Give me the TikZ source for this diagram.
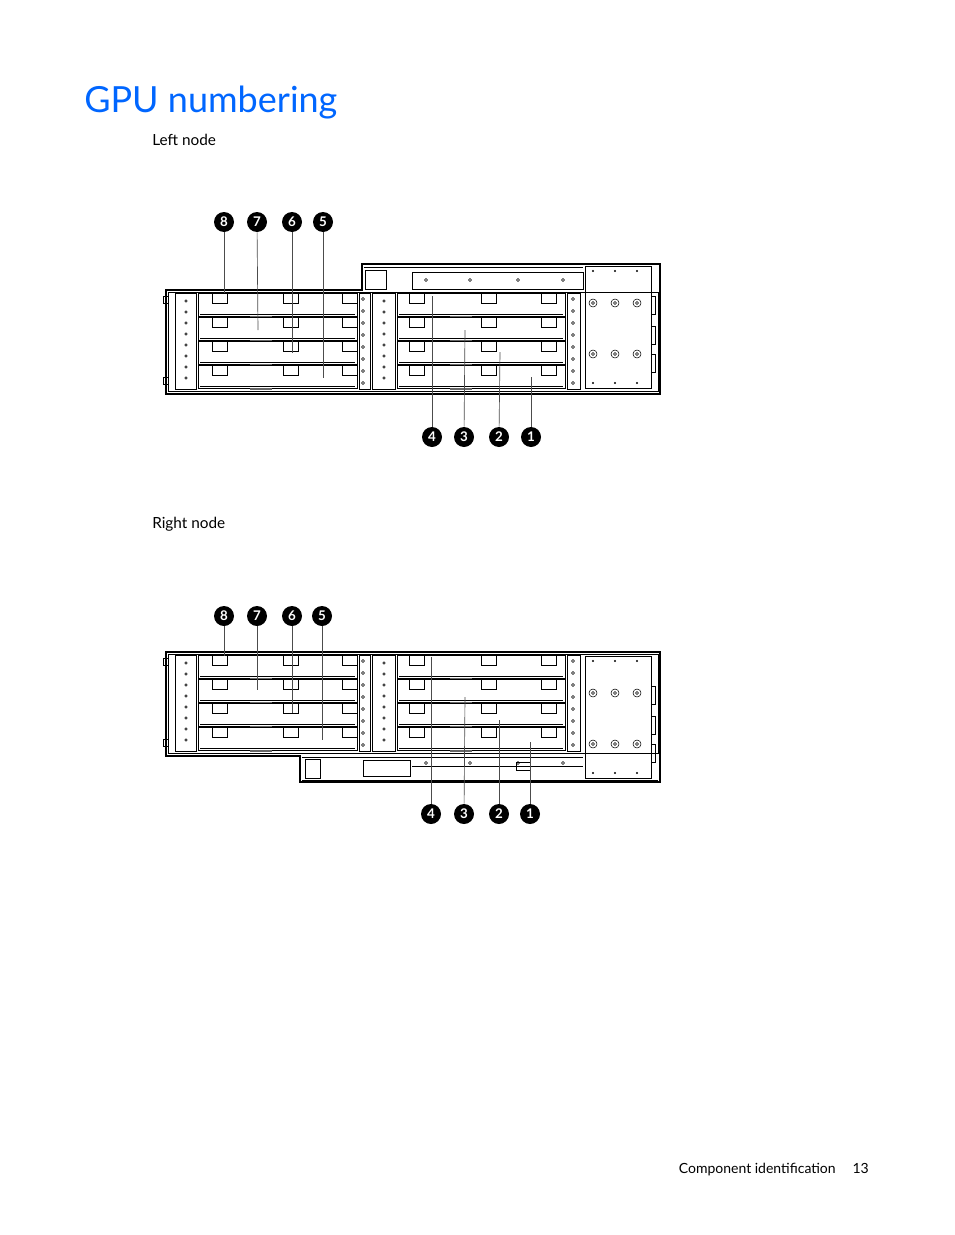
\documentclass[tikz,border=0pt]{standalone}
\usepackage{fontspec}
\setmainfont{Lato}
\begin{document}
\begin{tikzpicture}[x=0.75pt,y=-0.75pt,
  callout/.style={circle,fill=black,inner sep=0pt,minimum size=15pt,text=white,font=\bfseries\fontsize{10}{10}\selectfont},
  lead/.style={draw=black!70,line width=0.5pt},
  body/.style={draw=black,line width=0.9pt,fill=white},
  thin/.style={draw=black,line width=0.4pt}]
\useasboundingbox (0,0) rectangle (954,1235);
\definecolor{hpblue}{RGB}{0,102,255}
\node[anchor=base west,inner sep=0,text=hpblue,font=\fontsize{27}{27}\selectfont] (title) at (84,112) {GPU numbering};
\node[anchor=base west,inner sep=0,font=\fontsize{11.5}{12}\selectfont] (lnode) at (152,145) {Left node};
\node[anchor=base west,inner sep=0,font=\fontsize{11.5}{12}\selectfont] (rnode) at (152,528) {Right node};
\node[anchor=base east,inner sep=0,font=\fontsize{10.5}{12}\selectfont] (foot) at (869,1173) {Component identification\hspace{1.2em}13};

% generic bank drawer: #1 = top y of trays
\newcommand{\bankrows}[1]{%
  \foreach \r in {0,1,2,3}{
    \pgfmathsetmacro{\yy}{#1+\r*24}
    \draw[thin] (198,\yy) rectangle (357,\yy+23);
    \draw[thin] (397,\yy) rectangle (565,\yy+23);
    \draw[thin] (200,\yy+21) -- (355,\yy+21);
    \draw[thin] (399,\yy+21) -- (563,\yy+21);
    \foreach \tx in {212,283,342,409,481,541}{
      \draw[thin] (\tx,\yy) -- (\tx,\yy+10) -- (\tx+15,\yy+10) -- (\tx+15,\yy);
    }
    \fill[black!60] (250,\yy+22.5) rectangle (272,\yy+24.5);
    \fill[black!60] (450,\yy+22.5) rectangle (472,\yy+24.5);
  }
  % handles and middle
  \draw[thin] (175,#1) rectangle (196,#1+96);
  \draw[thin] (359,#1) rectangle (370,#1+96);
  \draw[thin] (372,#1) rectangle (395,#1+96);
  \draw[thin] (567,#1) rectangle (580,#1+96);
  \foreach \k in {0,...,7}{
    \draw[thin] (186,#1+8+\k*11) circle (1.2);
    \draw[thin] (384,#1+8+\k*11) circle (1.2);
    \draw[thin] (363,#1+6+\k*12) circle (1.6);
    \draw[thin] (573,#1+6+\k*12) circle (1.6);
  }
  \draw[thin] (163,#1+3) rectangle (168,#1+10);
  \draw[thin] (163,#1+84) rectangle (168,#1+91);
}
\newcommand{\sidepanel}[2]{%
  \draw[thin] (585,#1) rectangle (651,#2);
  \foreach \cx in {593,615,637}{
    \draw[thin] (\cx,#1+37) circle (4); \draw[thin] (\cx,#1+37) circle (1.5);
    \draw[thin] (\cx,#1+88) circle (4); \draw[thin] (\cx,#1+88) circle (1.5);
    \fill (\cx,#1+5) circle (1.1); \fill (\cx,#2-5) circle (1.1);
  }
  \draw[thin] (651,#1+30) rectangle (655,#1+48);
  \draw[thin] (651,#1+60) rectangle (655,#1+78);
  \draw[thin] (651,#1+88) rectangle (655,#1+106);
}

% ---------- Left node ----------
\draw[body] (166,290) -- (362,290) -- (362,264) -- (660,264) -- (660,394) -- (166,394) -- cycle;
\draw[thin] (168,292) rectangle (658,391);
\draw[thin] (364,267) -- (583,267);
\draw[thin] (365,270) rectangle (386,289);
\draw[thin] (412,272) rectangle (583,289);
\foreach \cx in {426,470,518,563}{\draw[thin] (\cx,280) circle (1.5);}
\bankrows{293}
\sidepanel{266}{388}

\node[callout] (c8) at (224,222) {8};
\node[callout] (c7) at (257,222) {7};
\node[callout] (c6) at (292,222) {6};
\node[callout] (c5) at (323,222) {5};
\node[callout] (c4) at (432,437) {4};
\node[callout] (c3) at (464,437) {3};
\node[callout] (c2) at (499,437) {2};
\node[callout] (c1) at (531,437) {1};
\coordinate (e8) at (224,293); \coordinate (e7) at (258,330);
\coordinate (e6) at (292,353); \coordinate (e5) at (323,378);
\coordinate (e4) at (432,296); \coordinate (e3) at (465,330);
\coordinate (e2) at (500,352); \coordinate (e1) at (531,377);
\foreach \n in {1,...,8}{\draw[lead] (c\n) -- (e\n);}

% ---------- Right node ----------
\draw[body] (166,652) -- (660,652) -- (660,782) -- (300,782) -- (300,756) -- (166,756) -- cycle;
\draw[thin] (168,654) rectangle (658,753);
\draw[thin] (302,757) -- (583,757);
\draw[thin] (302,780) -- (658,780);
\draw[thin] (305,759) rectangle (320,778);
\draw[thin] (363,760) rectangle (410,776);
\draw[thin] (412,766) -- (583,766);
\draw[thin] (516,762) rectangle (530,770);
\foreach \cx in {426,470,518,563}{\draw[thin] (\cx,763) circle (1.5);}
\bankrows{655}
\sidepanel{656}{778}

\node[callout] (d8) at (224,616) {8};
\node[callout] (d7) at (257,616) {7};
\node[callout] (d6) at (292,616) {6};
\node[callout] (d5) at (322,616) {5};
\node[callout] (d4) at (431,814) {4};
\node[callout] (d3) at (464,814) {3};
\node[callout] (d2) at (499,814) {2};
\node[callout] (d1) at (530,814) {1};
\coordinate (f8) at (224,656); \coordinate (f7) at (257,690);
\coordinate (f6) at (292,713); \coordinate (f5) at (322,740);
\coordinate (f4) at (431,657); \coordinate (f3) at (465,697);
\coordinate (f2) at (499,720); \coordinate (f1) at (530,742);
\foreach \n in {1,...,8}{\draw[lead] (d\n) -- (f\n);}
\end{tikzpicture}
\end{document}
